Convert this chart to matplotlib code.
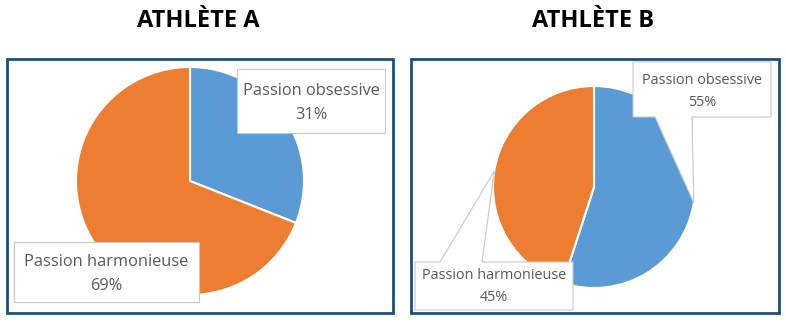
import numpy as np
import matplotlib
matplotlib.use("Agg")
import matplotlib.pyplot as plt
from matplotlib.patches import Polygon, Rectangle

# Data
categories = ["Passion obsessive", "Passion harmonieuse"]
athlete_a = [31, 69]
athlete_b = [55, 45]
titles = ["ATHLÈTE A", "ATHLÈTE B"]

colors = ["#5B9BD5", "#ED7D31"]
W, H = 786, 322
FONT = "Open Sans"

fig = plt.figure(figsize=(W / 100, H / 100), dpi=100)
ax = fig.add_axes([0, 0, 1, 1])


def Y(y):
    return H - y


def pie(values, cx, cy, r):
    ax.pie(values, colors=colors, startangle=90, counterclock=False,
           center=(cx, Y(cy)), radius=r, frame=True,
           wedgeprops=dict(edgecolor="white", linewidth=1.5))


def mid_point(values, idx, cx, cy, r):
    total = sum(values)
    start = 90 - 360 * sum(values[:idx]) / total
    end = start - 360 * values[idx] / total
    a = np.radians((start + end) / 2)
    return cx + r * np.cos(a), Y(cy) + r * np.sin(a)


def label(text_value, x, y, size, spacing):
    ax.text(x, Y(y), text_value, ha="center", va="center", fontsize=size,
            color="#595959", family=FONT, zorder=6, linespacing=spacing)


# Panel frames
for x0, x1 in [(7, 393), (411, 779)]:
    ax.add_patch(Rectangle((x0, Y(313)), x1 - x0, 313 - 59, fill=False,
                           edgecolor="#1F4E79", linewidth=2, zorder=10))

# Titles
ax.text(198, Y(21), titles[0], ha="center", va="center", fontsize=17,
        fontweight="bold", family=FONT, color="black")
ax.text(593, Y(21), titles[1], ha="center", va="center", fontsize=17,
        fontweight="bold", family=FONT, color="black")

# Athlete A pie
pie(athlete_a, 190, 181, 114)
box_style = dict(facecolor="white", edgecolor="#C8C8C8", linewidth=0.8, zorder=5)
ax.add_patch(Rectangle((237, Y(133)), 148, 64, **box_style))
label(f"{categories[0]}\n{athlete_a[0]}%", 311, 103, 11.8, 1.65)
ax.add_patch(Rectangle((14, Y(302)), 185, 60, **box_style))
label(f"{categories[1]}\n{athlete_a[1]}%", 106, 274, 11.8, 1.65)

# Athlete B pie
bcx, bcy, br = 594, 187, 101
pie(athlete_b, bcx, bcy, br)

tip = mid_point(athlete_b, 0, bcx, bcy, br)
obs = [(633, Y(62)), (771, Y(62)), (771, Y(117)), (692, Y(117)), tip,
       (655, Y(117)), (633, Y(117))]
ax.add_patch(Polygon(obs, closed=True, **box_style))
label(f"{categories[0]}\n{athlete_b[0]}%", 702, 91.5, 10.4, 1.6)

tip = mid_point(athlete_b, 1, bcx, bcy, br)
harm = [(415, Y(262)), (440, Y(262)), tip, (482, Y(262)), (573, Y(262)),
        (573, Y(310)), (415, Y(310))]
ax.add_patch(Polygon(harm, closed=True, **box_style))
label(f"{categories[1]}\n{athlete_b[1]}%", 494, 286.5, 10.4, 1.6)

ax.set_xlim(0, W)
ax.set_ylim(0, H)
ax.set_aspect("auto")
ax.axis("off")

fig.savefig("out.png", dpi=100, facecolor="white")
